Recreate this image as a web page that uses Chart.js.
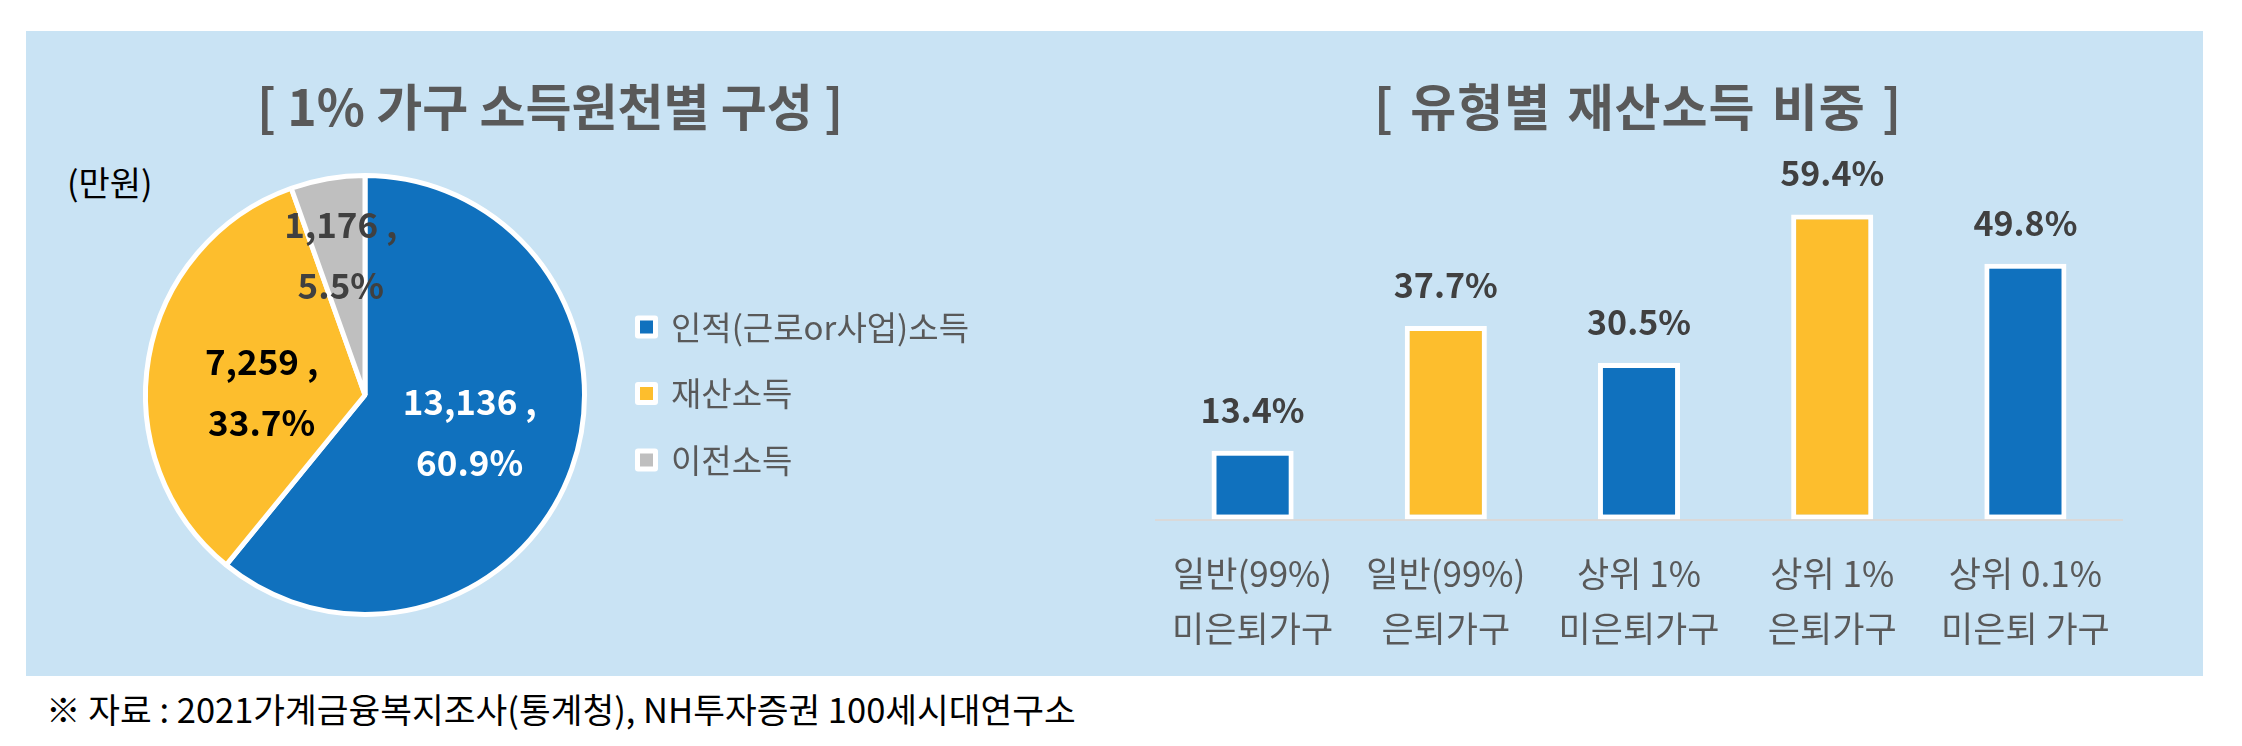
<!DOCTYPE html>
<html><head><meta charset="utf-8">
<script src="https://cdn.jsdelivr.net/npm/chart.js@4.4.1/dist/chart.umd.min.js"></script>
<style>
html,body{margin:0;padding:0;background:#fff;}
body{width:2242px;height:746px;position:relative;overflow:hidden;font-family:'Noto Sans CJK KR','Noto Sans',sans-serif;}
#panel{position:absolute;left:26px;top:31px;width:2177px;height:645px;background:#C9E3F4;}
.t{position:absolute;white-space:nowrap;line-height:1;}
.title{font-weight:700;font-size:50px;color:#595959;width:1000px;text-align:center;top:79px;}
canvas{position:absolute;top:0;}
</style></head>
<body>
<div id="panel"></div>
<div class="t title" style="left:50px">[ 1% 가구 소득원천별 구성 ]</div>
<div class="t title" style="left:1138px;letter-spacing:1px;word-spacing:4px">[ 유형별 재산소득 비중 ]</div>
<div class="t" style="left:67px;top:165px;font-size:34px;color:#000">(만원)</div>
<div class="t" style="left:46px;top:691px;font-size:34.5px;color:#000">※ 자료 : 2021가계금융복지조사(통계청), NH투자증권 100세시대연구소</div>
<canvas id="pie" width="1121" height="746" style="left:0"></canvas>
<canvas id="bar" width="1121" height="746" style="left:1121px"></canvas>
<script>
// ---- data ----
const incomeCategories = ['인적(근로or사업)소득', '재산소득', '이전소득'];
const incomeValues = [13136, 7259, 1176];
const propertyCategories = [
  ['일반(99%)', '미은퇴가구'],
  ['일반(99%)', '은퇴가구'],
  ['상위 1%', '미은퇴가구'],
  ['상위 1%', '은퇴가구'],
  ['상위 0.1%', '미은퇴 가구']
];
const propertyShares = [13.4, 37.7, 30.5, 59.4, 49.8];

// ---- styles ----
const FONT = "'Noto Sans CJK KR','Noto Sans',sans-serif";
const BLUE = '#1071BE', YELLOW = '#FDBE2D', GRAY = '#BFBFBF';
const pieColors = [BLUE, YELLOW, GRAY];
const barColors = [BLUE, YELLOW, BLUE, YELLOW, BLUE];

const pieLabelPlugin = {
  id: 'pieLabels',
  afterDatasetsDraw(chart, args, opts) {
    const ctx = chart.ctx;
    const meta = chart.getDatasetMeta(0);
    const data = chart.data.datasets[0].data;
    const total = data.reduce((a, b) => a + b, 0);
    meta.data.forEach((arc, i) => {
      const mid = (arc.startAngle + arc.endAngle) / 2;
      const r = arc.outerRadius * opts.radial[i];
      const x = arc.x + Math.cos(mid) * r;
      const y = arc.y + Math.sin(mid) * r + opts.nudgeY[i];
      ctx.save();
      ctx.font = "700 35px " + FONT;
      ctx.fillStyle = opts.colors[i];
      ctx.textAlign = 'center';
      ctx.textBaseline = 'middle';
      ctx.fillText(data[i].toLocaleString('en-US') + ' ,', x, y - 30.5);
      ctx.fillText((data[i] / total * 100).toFixed(1) + '%', x, y + 30.5);
      ctx.restore();
    });
  }
};

const pieLegendPlugin = {
  id: 'pieLegend',
  afterDraw(chart, args, opts) {
    const ctx = chart.ctx;
    const ds = chart.data.datasets[0];
    chart.data.labels.forEach((lab, i) => {
      const y = opts.top + i * opts.gap;
      ctx.save();
      ctx.fillStyle = '#fff';
      ctx.beginPath();
      ctx.roundRect(opts.x, y - 11.5, 23, 23, 3);
      ctx.fill();
      ctx.fillStyle = ds.backgroundColor[i];
      ctx.fillRect(opts.x + 5, y - 6.5, 13, 13);
      ctx.font = "400 33px " + FONT;
      ctx.fillStyle = '#595959';
      ctx.textAlign = 'left';
      ctx.textBaseline = 'middle';
      ctx.fillText(lab, opts.x + 36, y);
      ctx.restore();
    });
  }
};

const barLabelPlugin = {
  id: 'barLabels',
  afterDatasetsDraw(chart, args, opts) {
    const ctx = chart.ctx;
    const meta = chart.getDatasetMeta(0);
    const data = chart.data.datasets[0].data;
    ctx.save();
    ctx.font = "700 34px " + FONT;
    ctx.fillStyle = '#404040';
    ctx.textAlign = 'center';
    ctx.textBaseline = 'middle';
    meta.data.forEach((bar, i) => {
      ctx.fillText(data[i].toFixed(1) + '%', bar.x, bar.y - 41);
    });
    ctx.restore();
  }
};

new Chart(document.getElementById('pie'), {
  type: 'pie',
  data: {
    labels: incomeCategories,
    datasets: [{
      data: incomeValues,
      backgroundColor: pieColors,
      borderColor: '#fff',
      borderWidth: 5,
      hoverOffset: 0
    }]
  },
  options: {
    responsive: false,
    animation: false,
    events: [],
    layout: { padding: { left: 143, top: 173, right: 534, bottom: 129 } },
    plugins: {
      legend: { display: false },
      tooltip: { enabled: false },
      pieLabels: { radial: [0.506, 0.478, 0.647], nudgeY: [0, 15, 0], colors: ['#fff', '#000', '#404040'] },
      pieLegend: { x: 635, top: 327, gap: 66.5 }
    }
  },
  plugins: [pieLabelPlugin, pieLegendPlugin]
});

new Chart(document.getElementById('bar'), {
  type: 'bar',
  data: {
    labels: propertyCategories,
    datasets: [{
      data: propertyShares,
      backgroundColor: barColors,
      borderColor: '#fff',
      borderWidth: 5,
      borderSkipped: false,
      barPercentage: 0.425,
      categoryPercentage: 1
    }]
  },
  options: {
    responsive: false,
    animation: false,
    events: [],
    layout: { padding: { left: 35, right: 120, top: 160, bottom: 63.5 } },
    scales: {
      x: {
        grid: { display: false, drawTicks: false },
        border: { display: true, color: '#D9D9D9', width: 2 },
        ticks: {
          font: { family: FONT, size: 35, lineHeight: 1.571 },
          color: '#595959',
          padding: 26.5,
          maxRotation: 0,
          autoSkip: false
        }
      },
      y: { display: false, min: 0, max: 70 }
    },
    plugins: {
      legend: { display: false },
      tooltip: { enabled: false },
      barLabels: {}
    }
  },
  plugins: [barLabelPlugin]
});
</script>
</body></html>
